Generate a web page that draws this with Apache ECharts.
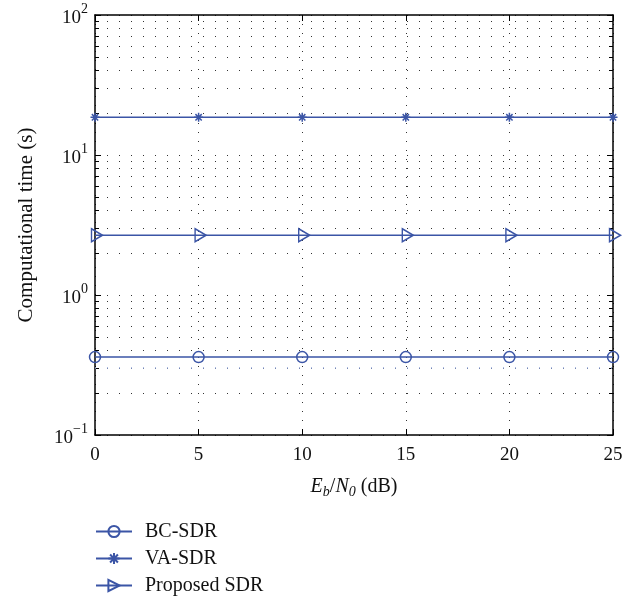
<!DOCTYPE html>
<html>
<head>
<meta charset="utf-8">
<script src="https://cdn.jsdelivr.net/npm/echarts@6/dist/echarts.min.js"></script>
<style>
  html, body { margin: 0; padding: 0; background: #fff; }
  #chart { width: 641px; height: 596px; }
</style>
</head>
<body>
<div id="chart"></div>
<script>
// data
const snr = [0, 5, 10, 15, 20, 25];
const bcSdr = [0.36, 0.36, 0.36, 0.36, 0.36, 0.36];
const vaSdr = [18.6, 18.6, 18.6, 18.6, 18.6, 18.6];
const proposedSdr = [2.67, 2.67, 2.67, 2.67, 2.67, 2.67];
const yTicks = [0.1, 1, 10, 100];
const yExp = ['\u22121', '0', '1', '2'];

const blue = '#3b55a6';
const font = 'Liberation Serif';

const pairs = vals => snr.map((x, i) => [x, vals[i]]);

const chart = echarts.init(document.getElementById('chart'));

const tick = () => ({ show: true, inside: true, length: 6, lineStyle: { color: '#000', width: 1 } });
const minor = () => ({ show: true, splitNumber: 9, length: 4, lineStyle: { color: '#000', width: 1 } });
const frame = () => ({ show: true, onZero: false, lineStyle: { color: '#000', width: 1.5 } });
const dots = () => ({ show: true, lineStyle: { color: '#333', type: [1, 11], width: 1 } });

const option = {
  backgroundColor: '#fff',
  animation: false,
  textStyle: { fontFamily: font },
  grid: { left: 95, right: 28, top: 15, bottom: 161 },
  legend: {
    orient: 'vertical',
    left: 95,
    top: 521,
    padding: 0,
    itemWidth: 36,
    itemHeight: 14,
    itemGap: 6,
    textStyle: { fontFamily: font, fontSize: 20, lineHeight: 21, color: '#111', padding: [0, 0, 0, 8] },
    data: ['BC-SDR', 'VA-SDR', 'Proposed SDR']
  },
  xAxis: [
    {
      type: 'value',
      min: 0,
      max: 25,
      interval: 5,
      axisLine: frame(),
      axisTick: tick(),
      axisLabel: { fontFamily: font, fontSize: 19, color: '#111', margin: 11 },
      splitLine: { show: true, lineStyle: { color: '#333', type: [1, 8], width: 1 } },
      name: '{i|E}{s|b}{n|/}{i|N}{s|0}{n| (dB)}',
      nameLocation: 'middle',
      nameGap: 40,
      nameTextStyle: {
        rich: {
          i: { fontFamily: font, fontSize: 20, fontStyle: 'italic', color: '#111' },
          s: { fontFamily: font, fontSize: 14, fontStyle: 'italic', color: '#111', verticalAlign: 'bottom', padding: [10, 0, 0, 0] },
          n: { fontFamily: font, fontSize: 20, color: '#111' }
        }
      }
    },
    {
      type: 'value',
      position: 'top',
      min: 0,
      max: 25,
      interval: 5,
      axisLine: frame(),
      axisTick: tick(),
      axisLabel: { show: false },
      splitLine: { show: false }
    }
  ],
  yAxis: [
    {
      type: 'log',
      logBase: 10,
      min: 0.1,
      max: 100,
      axisLine: frame(),
      axisTick: tick(),
      minorTick: minor(),
      minorSplitLine: dots(),
      splitLine: dots(),
      axisLabel: {
        fontFamily: font,
        margin: 7,
        formatter: v => {
          const k = yTicks.findIndex(t => Math.abs(t - v) / t < 1e-6);
          return k < 0 ? '' : '{b|10}{e|' + yExp[k] + '}';
        },
        rich: {
          b: { fontFamily: font, fontSize: 19, color: '#111', padding: [6, 0, 0, 0] },
          e: { fontFamily: font, fontSize: 14, color: '#111', verticalAlign: 'top', padding: [0, 0, 8, 0] }
        }
      },
      name: 'Computational time (s)',
      nameLocation: 'middle',
      nameGap: 58,
      nameTextStyle: { fontFamily: font, fontSize: 21, color: '#111' }
    },
    {
      type: 'log',
      logBase: 10,
      min: 0.1,
      max: 100,
      position: 'right',
      axisLine: frame(),
      axisTick: tick(),
      minorTick: minor(),
      axisLabel: { show: false },
      splitLine: { show: false }
    }
  ],
  series: [
    {
      name: 'BC-SDR',
      type: 'line',
      data: pairs(bcSdr),
      symbol: 'circle',
      symbolSize: 11,
      clip: false,
      lineStyle: { color: blue, width: 1.5 },
      itemStyle: { color: 'transparent', borderColor: blue, borderWidth: 1.5 },
      markLine: {
        silent: true,
        symbol: 'none',
        label: { show: false },
        lineStyle: { color: '#8ea2d8', type: [1, 11], width: 1.5 },
        data: [{ yAxis: 0.3 }]
      }
    },
    {
      name: 'VA-SDR',
      type: 'line',
      data: pairs(vaSdr),
      symbol: 'path://M5,0 L5,10 M0,5 L10,5 M1.5,1.5 L8.5,8.5 M8.5,1.5 L1.5,8.5',
      symbolSize: 9,
      clip: false,
      lineStyle: { color: blue, width: 1.5 },
      itemStyle: { color: 'transparent', borderColor: blue, borderWidth: 1.5 }
    },
    {
      name: 'Proposed SDR',
      type: 'line',
      data: pairs(proposedSdr),
      symbol: 'path://M0,0 L10,5 L0,10 Z',
      symbolSize: [11, 13],
      symbolOffset: [2, 0],
      clip: false,
      lineStyle: { color: blue, width: 1.5 },
      itemStyle: { color: 'transparent', borderColor: blue, borderWidth: 1.5 }
    }
  ]
};

chart.setOption(option);
</script>
</body>
</html>
